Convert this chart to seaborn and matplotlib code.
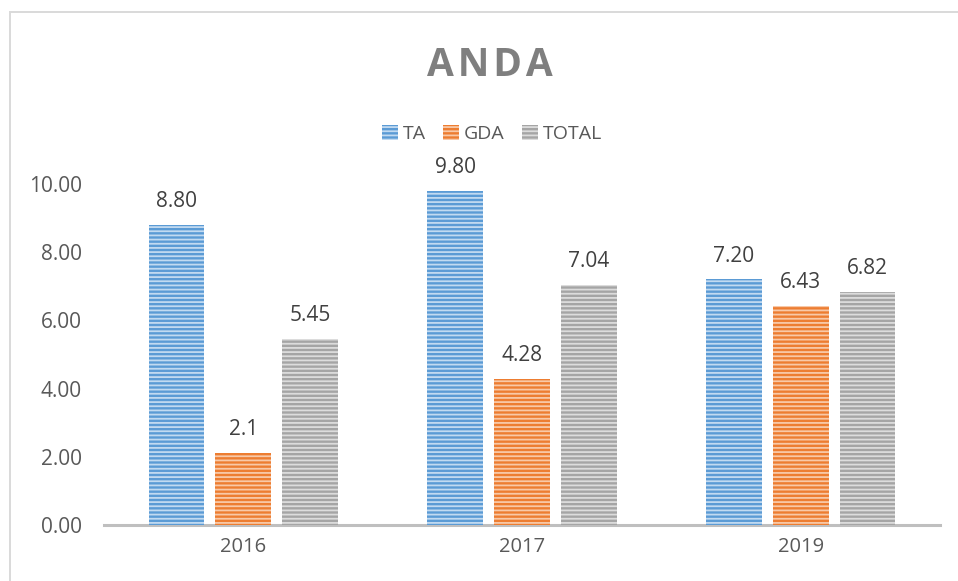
import seaborn as sns
import pandas as pd
import matplotlib.pyplot as plt
from matplotlib.patches import Patch, Rectangle

years = ['2016', '2017', '2019']
ta = [8.80, 9.80, 7.20]
gda = [2.1, 4.28, 6.43]
total = [5.45, 7.04, 6.82]
ta_labels = ['8.80', '9.80', '7.20']
gda_labels = ['2.1', '4.28', '6.43']
total_labels = ['5.45', '7.04', '6.82']
series = ['TA', 'GDA', 'TOTAL']

face = {'TA': '#5B9BD5', 'GDA': '#ED7D31', 'TOTAL': '#A5A5A5'}
stripe = {'TA': '#C2DAF1', 'GDA': '#F8C9A8', 'TOTAL': '#DCDCDC'}

df = pd.DataFrame({
    'year': years * 3,
    'serie': ['TA'] * 3 + ['GDA'] * 3 + ['TOTAL'] * 3,
    'value': ta + gda + total,
})
labels = ta_labels + gda_labels + total_labels

sns.set_style('white')
plt.rcParams['font.family'] = ['Open Sans', 'DejaVu Sans']
plt.rcParams['hatch.linewidth'] = 1.3

W, H = 958, 581
fig = plt.figure(figsize=(W / 100, H / 100), dpi=100)
# axes box in pixels: x 104..940, y(0)=525, y(10)=184
ax = fig.add_axes([104 / W, 1 - 525 / H, (940 - 104) / W, (525 - 184) / H])

sns.barplot(data=df, x='year', y='value', hue='serie', hue_order=series,
            palette=face, width=0.72, gap=0.165, ax=ax, legend=False,
            saturation=1)

bars = [p for p in ax.patches if p.get_height() > 0]
for i, p in enumerate(bars):
    s = series[i // 3]
    p.set_facecolor(face[s])
    p.set_edgecolor(stripe[s])
    p.set_linewidth(0)
    p.set_hatch('----')
    p.set_zorder(3)
    ax.text(p.get_x() + p.get_width() / 2, p.get_height() + 0.38, labels[i],
            ha='center', va='bottom', fontsize=15, color='#404040', clip_on=False)

ax.set_ylim(0, 10)
ax.set_yticks([0, 2, 4, 6, 8, 10])
ax.set_yticklabels(['%.2f' % v for v in [0, 2, 4, 6, 8, 10]])
ax.set_xlabel('')
ax.set_ylabel('')
ax.tick_params(axis='y', length=0, labelsize=15, colors='#595959', pad=16)
ax.tick_params(axis='x', length=0, labelsize=14.5, colors='#595959', pad=9)
for side in ['left', 'right', 'top']:
    ax.spines[side].set_visible(False)
ax.spines['bottom'].set_color('#BFBFBF')
ax.spines['bottom'].set_linewidth(2.2)
ax.spines['bottom'].set_zorder(2)
ax.patch.set_alpha(0)

handles = [Patch(facecolor=face[s], edgecolor=stripe[s], hatch='----', linewidth=0, label=s)
           for s in series]
fig.legend(handles=handles, loc='center', bbox_to_anchor=(492 / W, 1 - 134 / H),
           ncol=3, frameon=False, fontsize=14, handlelength=0.8, handleheight=0.8,
           handletextpad=0.26, columnspacing=0.9, labelcolor='#595959')

fig.text(490 / W, 1 - 65 / H, '\u200a'.join('ANDA'), ha='center', va='center', fontsize=28,
         fontweight='bold', color='#7F7F7F')

fig.patches.append(Rectangle((10 / W, -0.1), 1.2, 1 - 12 / H + 0.1,
                             transform=fig.transFigure, fill=False,
                             edgecolor='#D9D9D9', linewidth=1.4))

fig.savefig('out.png', dpi=100)
